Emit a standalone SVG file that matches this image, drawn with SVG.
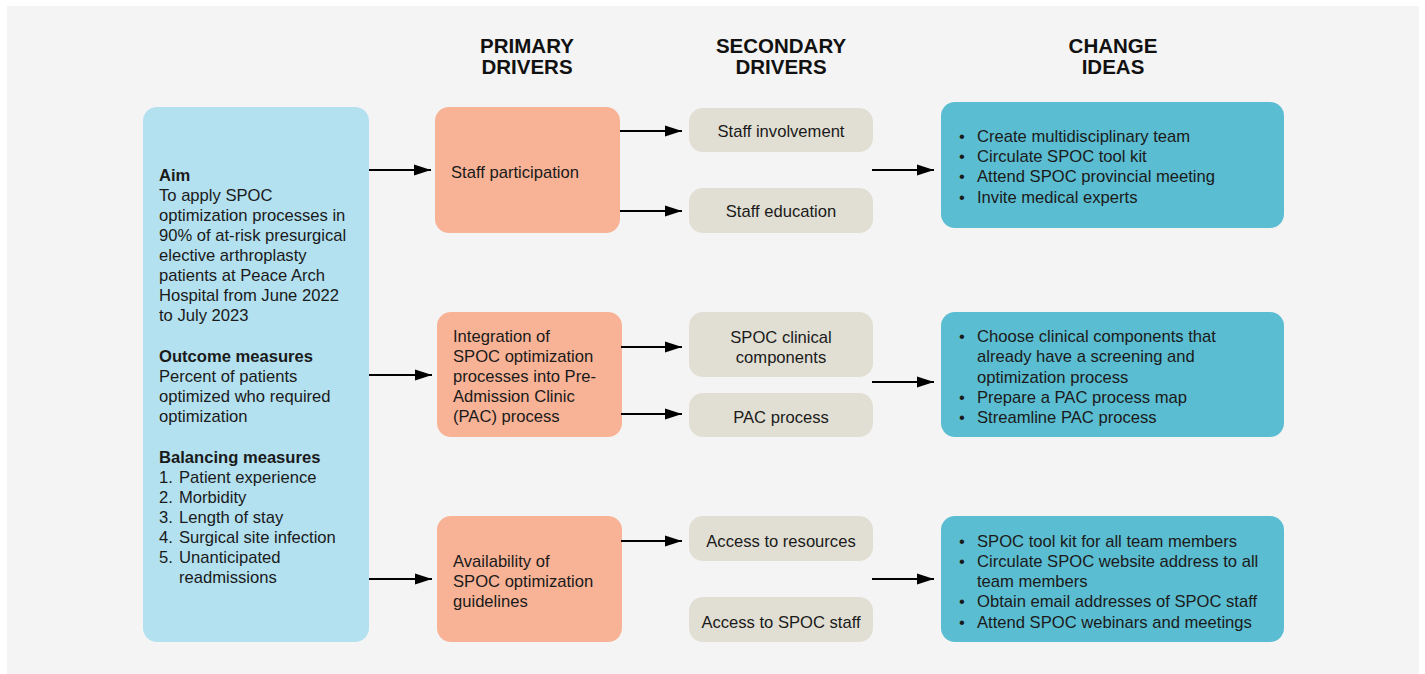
<svg xmlns="http://www.w3.org/2000/svg" width="1425" height="674" viewBox="0 0 1425 674">
  <style>
    text { font-family: "Liberation Sans", Arial, sans-serif; font-size: 16.6px; fill: #1a1a1a; }
    .hd { font-size: 20.5px; font-weight: bold; text-anchor: middle; fill: #111; }
    .b { font-weight: bold; }
    .mid { text-anchor: middle; }
    .aim { fill: #b3e1f0; }
    .pri { fill: #f8b396; }
    .sec { fill: #e1dfd4; }
    .chg { fill: #5bbdd1; }
    .conn line { stroke: #000; stroke-width: 2; marker-end: url(#arrow); }
  </style>
  <defs>
    <marker id="arrow" markerUnits="userSpaceOnUse" markerWidth="18" markerHeight="12" refX="17" refY="6" orient="auto">
      <path d="M0,0.5 L17,6 L0,11.5 z" fill="#000"/>
    </marker>
  </defs>

  <!-- page background -->
  <rect x="7" y="6" width="1412" height="668" fill="#f4f4f4"/>

  <!-- column headings -->
  <g id="headers">
    <text class="hd" x="527" y="53">PRIMARY</text>
    <text class="hd" x="527" y="74">DRIVERS</text>
    <text class="hd" x="781" y="53">SECONDARY</text>
    <text class="hd" x="781" y="74">DRIVERS</text>
    <text class="hd" x="1113" y="53">CHANGE</text>
    <text class="hd" x="1113" y="74">IDEAS</text>
  </g>

  <!-- aim and measures -->
  <g id="aim">
    <rect class="aim" x="143" y="107" width="226" height="535" rx="14"/>
    <text x="159" y="181" class="b">Aim</text>
    <text x="159" y="201">To apply SPOC</text>
    <text x="159" y="221">optimization processes in</text>
    <text x="159" y="241">90% of at-risk presurgical</text>
    <text x="159" y="261">elective arthroplasty</text>
    <text x="159" y="281">patients at Peace Arch</text>
    <text x="159" y="301">Hospital from June 2022</text>
    <text x="159" y="321">to July 2023</text>
    <text x="159" y="362" class="b">Outcome measures</text>
    <text x="159" y="382">Percent of patients</text>
    <text x="159" y="402">optimized who required</text>
    <text x="159" y="422">optimization</text>
    <text x="159" y="463" class="b">Balancing measures</text>
    <text x="159" y="483">1.</text><text x="179" y="483">Patient experience</text>
    <text x="159" y="503">2.</text><text x="179" y="503">Morbidity</text>
    <text x="159" y="523">3.</text><text x="179" y="523">Length of stay</text>
    <text x="159" y="543">4.</text><text x="179" y="543">Surgical site infection</text>
    <text x="159" y="563">5.</text><text x="179" y="563">Unanticipated</text>
    <text x="179" y="583">readmissions</text>
  </g>

  <!-- primary drivers -->
  <g id="primary-1">
    <rect class="pri" x="435" y="107" width="185" height="126" rx="14"/>
    <text x="451" y="178">Staff participation</text>
  </g>
  <g id="primary-2">
    <rect class="pri" x="437" y="312" width="185" height="125" rx="14"/>
    <text x="453" y="342">Integration of</text>
    <text x="453" y="362">SPOC optimization</text>
    <text x="453" y="382">processes into Pre-</text>
    <text x="453" y="402">Admission Clinic</text>
    <text x="453" y="422">(PAC) process</text>
  </g>
  <g id="primary-3">
    <rect class="pri" x="437" y="516" width="185" height="126" rx="14"/>
    <text x="453" y="567">Availability of</text>
    <text x="453" y="587">SPOC optimization</text>
    <text x="453" y="607">guidelines</text>
  </g>

  <!-- secondary drivers -->
  <g id="secondary-1">
    <rect class="sec" x="689" y="108" width="184" height="44" rx="14"/>
    <text class="mid" x="781" y="137">Staff involvement</text>
  </g>
  <g id="secondary-2">
    <rect class="sec" x="689" y="188" width="184" height="45" rx="14"/>
    <text class="mid" x="781" y="217">Staff education</text>
  </g>
  <g id="secondary-3">
    <rect class="sec" x="689" y="312" width="184" height="65" rx="14"/>
    <text class="mid" x="781" y="343">SPOC clinical</text>
    <text class="mid" x="781" y="363">components</text>
  </g>
  <g id="secondary-4">
    <rect class="sec" x="689" y="393" width="184" height="44" rx="14"/>
    <text class="mid" x="781" y="423">PAC process</text>
  </g>
  <g id="secondary-5">
    <rect class="sec" x="689" y="516" width="184" height="45" rx="14"/>
    <text class="mid" x="781" y="547">Access to resources</text>
  </g>
  <g id="secondary-6">
    <rect class="sec" x="689" y="597" width="184" height="45" rx="14"/>
    <text class="mid" x="781" y="628">Access to SPOC staff</text>
  </g>

  <!-- change ideas -->
  <g id="change-1">
    <rect class="chg" x="941" y="102" width="343" height="126" rx="14"/>
    <text x="959" y="142">•</text><text x="977" y="142">Create multidisciplinary team</text>
    <text x="959" y="162">•</text><text x="977" y="162">Circulate SPOC tool kit</text>
    <text x="959" y="182">•</text><text x="977" y="182">Attend SPOC provincial meeting</text>
    <text x="959" y="203">•</text><text x="977" y="203">Invite medical experts</text>
  </g>
  <g id="change-2">
    <rect class="chg" x="941" y="312" width="343" height="125" rx="14"/>
    <text x="959" y="342">•</text><text x="977" y="342">Choose clinical components that</text>
    <text x="977" y="362">already have a screening and</text>
    <text x="977" y="383">optimization process</text>
    <text x="959" y="403">•</text><text x="977" y="403">Prepare a PAC process map</text>
    <text x="959" y="423">•</text><text x="977" y="423">Streamline PAC process</text>
  </g>
  <g id="change-3">
    <rect class="chg" x="941" y="516" width="343" height="126" rx="14"/>
    <text x="959" y="547">•</text><text x="977" y="547">SPOC tool kit for all team members</text>
    <text x="959" y="567">•</text><text x="977" y="567">Circulate SPOC website address to all</text>
    <text x="977" y="587">team members</text>
    <text x="959" y="607">•</text><text x="977" y="607">Obtain email addresses of SPOC staff</text>
    <text x="959" y="628">•</text><text x="977" y="628">Attend SPOC webinars and meetings</text>
  </g>

  <!-- connectors -->
  <g id="connectors" class="conn">
    <line x1="369" y1="170" x2="431" y2="170"/>
    <line x1="369" y1="375" x2="432" y2="375"/>
    <line x1="369" y1="579" x2="432" y2="579"/>
    <line x1="620" y1="131" x2="682" y2="131"/>
    <line x1="620" y1="211" x2="682" y2="211"/>
    <line x1="621" y1="347" x2="682" y2="347"/>
    <line x1="621" y1="414" x2="682" y2="414"/>
    <line x1="621" y1="541" x2="682" y2="541"/>
    <line x1="872" y1="170" x2="934" y2="170"/>
    <line x1="872" y1="382" x2="934" y2="382"/>
    <line x1="872" y1="579" x2="934" y2="579"/>
  </g>
</svg>
